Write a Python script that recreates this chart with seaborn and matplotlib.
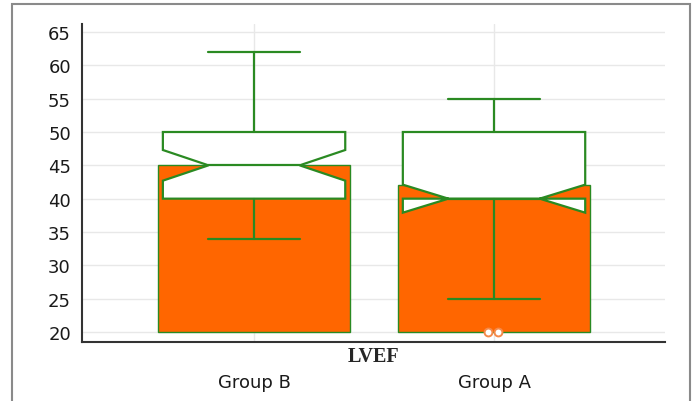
import matplotlib

matplotlib.use("Agg")

import matplotlib.pyplot as plt
import pandas as pd
import seaborn as sns
from matplotlib.patches import Rectangle

# values
GROUPS = ["Group B", "Group A"]
BAR_VALUES = [45, 42]
WHISKER_LOW = [34, 25]
Q1 = [40, 40]
MEDIAN = [45, 40]
Q3 = [50, 50]
WHISKER_HIGH = [62, 55]
NOTCH_LOW = [42.7, 37.9]
NOTCH_HIGH = [47.3, 42.1]
OUTLIERS = [[], [20, 20]]
Y_TICKS = list(range(20, 70, 5))
BAR_BASE = 20
X_LABEL = "LVEF"

ORANGE = "#FF6600"
GREEN = "#2A8A22"

sns.set_style("white")
plt.rcParams["font.family"] = ["DejaVu Sans"]

fig = plt.figure(figsize=(6.95, 4.02), dpi=100)
ax = fig.add_axes([82 / 695, 1 - 343 / 402, (665 - 82) / 695, (343 - 25) / 402])

df = pd.DataFrame({"group": GROUPS, "value": BAR_VALUES})
sns.barplot(
    data=df, x="group", y="value", hue="group", palette=[ORANGE, ORANGE],
    legend=False, width=0.8, edgecolor=GREEN, linewidth=1.0, saturation=1,
    ax=ax, zorder=2,
)
# bars start at the baseline rather than zero
for bar in ax.patches:
    bar.set_height(bar.get_height() - BAR_BASE)
    bar.set_y(BAR_BASE)

stats = []
for i in range(len(GROUPS)):
    stats.append({
        "med": MEDIAN[i], "q1": Q1[i], "q3": Q3[i],
        "whislo": WHISKER_LOW[i], "whishi": WHISKER_HIGH[i],
        "cilo": NOTCH_LOW[i], "cihi": NOTCH_HIGH[i], "fliers": [],
    })

line_kw = dict(color=GREEN, linewidth=1.6)
ax.bxp(
    stats, positions=range(len(GROUPS)), widths=0.76, shownotches=True,
    patch_artist=True, showfliers=False, manage_ticks=False, zorder=3,
    boxprops=dict(facecolor="white", edgecolor=GREEN, linewidth=1.6),
    medianprops=line_kw, whiskerprops=line_kw, capprops=line_kw,
)

for i, values in enumerate(OUTLIERS):
    for j, v in enumerate(values):
        ax.scatter(i - 0.025 + 0.04 * j, v, s=32, facecolor="white",
                   edgecolor="#F58A4A", linewidth=1.4, zorder=4, clip_on=False)

ax.set_xlim(-0.717, 1.7125)
ax.set_ylim(18.5, 66.2)
ax.set_yticks(Y_TICKS)
ax.set_ylabel("")
ax.set_xlabel(X_LABEL, fontsize=14.5, fontweight="bold", family="Liberation Serif")
ax.xaxis.set_label_coords(0.5, -0.012)
ax.xaxis.label.set_va("top")

ax.grid(True, color="#E8E8E8", linewidth=1.0, zorder=0)
ax.set_axisbelow(True)
ax.tick_params(axis="both", direction="in", length=8, width=1.0, color="#333333",
               labelsize=13, labelcolor="#1A1A1A")
ax.tick_params(axis="y", pad=8)
ax.tick_params(axis="x", pad=22)

for side in ["top", "right"]:
    ax.spines[side].set_visible(False)
for side in ["left", "bottom"]:
    ax.spines[side].set_color("#333333")
    ax.spines[side].set_linewidth(1.5)

fig.patches.append(Rectangle(
    (12 / 695, -0.05), (690 - 12) / 695, 1.05 - 5 / 402,
    transform=fig.transFigure, fill=False, edgecolor="#8A8A8A", linewidth=1.5,
))

fig.savefig("out.png", dpi=100)
